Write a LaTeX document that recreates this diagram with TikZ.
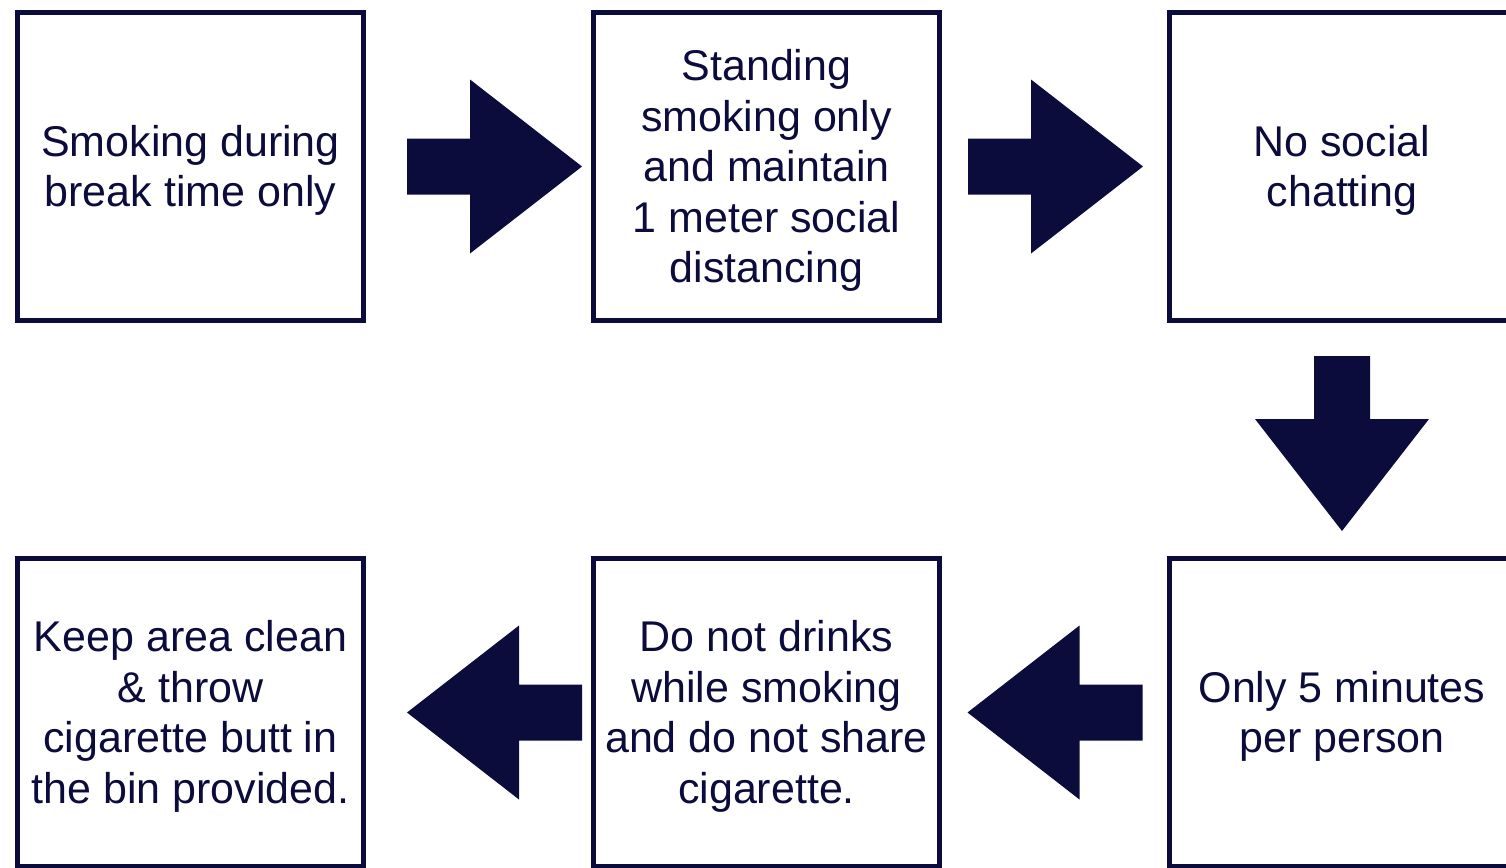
\documentclass[tikz,border=0pt]{standalone}
\usepackage{fontspec}
\setmainfont{Liberation Sans}
\usetikzlibrary{calc}
\definecolor{navy}{RGB}{11,12,60}
\begin{document}
\begin{tikzpicture}[x=1pt,y=-1pt,
  box/.style={draw=navy,line width=5pt,minimum width=346pt,minimum height=308pt,inner sep=0pt},
  txt/.style={align=center,text=navy,inner sep=0pt,yshift=-4pt,font=\fontsize{43}{50.5}\selectfont},
  barrow/.pic={\fill[navy] (0,-28)--(63,-28)--(63,-87)--(175,0)--(63,87)--(63,28)--(0,28)--cycle;}]
\useasboundingbox (0,0) rectangle (1506,867);
\begin{scope}
\clip (0,0) rectangle (1506,867);
\node[box] (b1) at (190.5,166.5) {};
\node[box] (b2) at (766.5,166.5) {};
\node[box] (b3) at (1342,166.5) {};
\node[box] (b6) at (1342,712.5) {};
\node[box] (b5) at (766.5,712.5) {};
\node[box] (b4) at (190.5,712.5) {};
\node[txt] (t1) at (b1.center) {Smoking during\\break time only};
\node[txt] (t2) at (b2.center) {Standing\\smoking only\\and maintain\\1 meter social\\distancing};
\node[txt] (t3) at (b3.center) {No social\\chatting};
\node[txt] (t6) at (b6.center) {Only 5 minutes\\per person};
\node[txt] (t5) at (b5.center) {Do not drinks\\while smoking\\and do not share\\cigarette.};
\node[txt] (t4) at (b4.center) {Keep area clean\\\& throw\\cigarette butt in\\the bin provided.};
\pic at ($(b1.east)+(41,0)$) {barrow};
\pic at ($(b2.east)+(26,0)$) {barrow};
\pic[rotate=-90] at ($(b3.south)+(0,33)$) {barrow};
\pic[rotate=180] at ($(b6.west)+(-24,0)$) {barrow};
\pic[rotate=180] at ($(b5.west)+(-9,0)$) {barrow};
\end{scope}
\end{tikzpicture}
\end{document}
